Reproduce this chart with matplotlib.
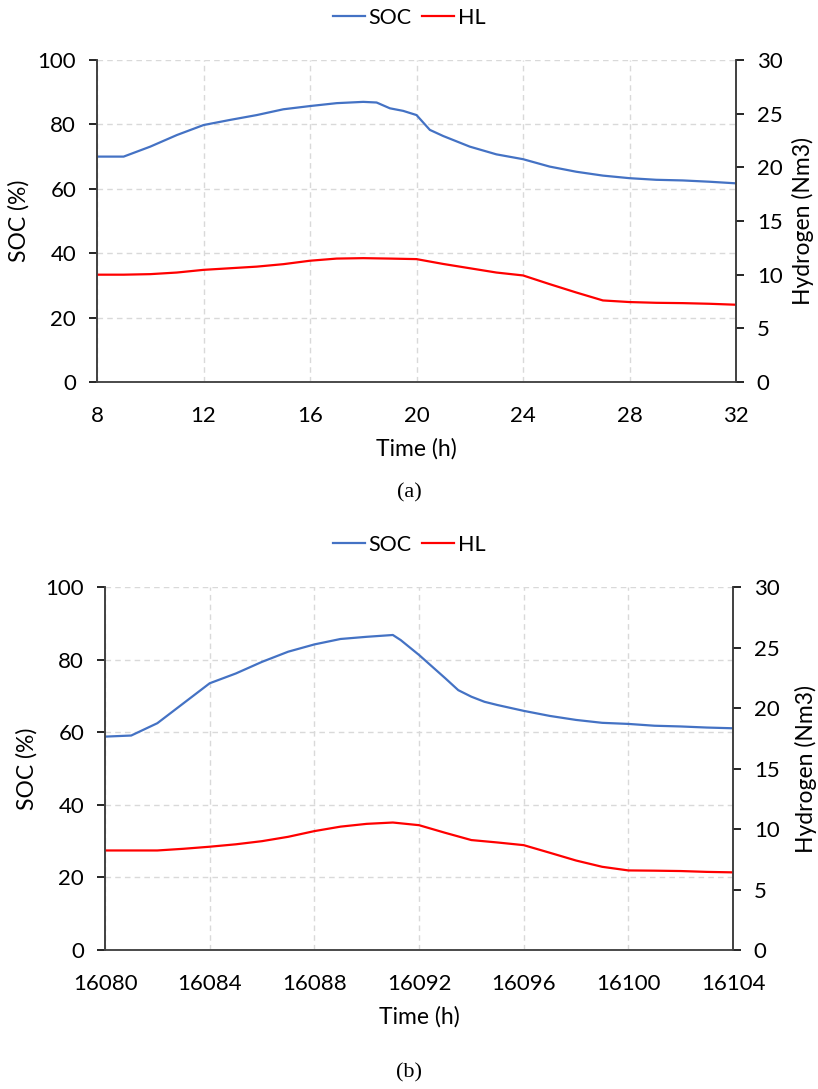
import numpy as np
import matplotlib.pyplot as plt

plt.rcParams['font.family'] = ['Lato', 'DejaVu Sans']

# (a) day 1
time_a = [8, 9, 10, 11, 12, 13, 14, 15, 16, 17, 18, 18.5, 19, 19.5, 20, 20.5,
          21, 22, 23, 24, 25, 26, 27, 28, 29, 30, 31, 32]
soc_a = [70.0, 70.0, 73.1, 76.7, 79.8, 81.4, 82.9, 84.7, 85.7, 86.6, 87.0, 86.8,
         85.0, 84.2, 82.9, 78.3, 76.4, 73.1, 70.7, 69.2, 66.9, 65.3, 64.1, 63.3,
         62.8, 62.6, 62.2, 61.7]
time_a_hl = [8, 9, 10, 11, 12, 13, 14, 15, 16, 17, 18, 19, 20, 21, 22, 23, 24,
             25, 26, 27, 28, 29, 30, 31, 32]
hl_a = [10.0, 10.0, 10.05, 10.2, 10.45, 10.6, 10.75, 10.98, 11.3, 11.5, 11.54,
        11.5, 11.45, 11.0, 10.6, 10.2, 9.93, 9.12, 8.34, 7.6, 7.45, 7.38, 7.35,
        7.29, 7.2]

# (b) later day
time_b = [16080, 16081, 16082, 16083, 16084, 16085, 16086, 16087, 16088, 16089,
          16090, 16091, 16091.3, 16092, 16092.5, 16093, 16093.5, 16094, 16094.5,
          16095, 16096, 16097, 16098, 16099, 16100, 16101, 16102, 16103, 16104]
soc_b = [58.8, 59.1, 62.5, 68.0, 73.5, 76.2, 79.4, 82.2, 84.2, 85.7, 86.3, 86.8,
         85.4, 81.3, 78.1, 74.9, 71.6, 69.8, 68.4, 67.5, 65.9, 64.5, 63.4, 62.6,
         62.3, 61.8, 61.6, 61.3, 61.1]
time_b_hl = [16080, 16081, 16082, 16083, 16084, 16085, 16086, 16087, 16088,
             16089, 16090, 16091, 16092, 16093, 16094, 16095, 16096, 16097,
             16098, 16099, 16100, 16101, 16102, 16103, 16104]
hl_b = [8.23, 8.23, 8.23, 8.37, 8.54, 8.74, 9.0, 9.36, 9.83, 10.2, 10.43, 10.54,
        10.32, 9.69, 9.09, 8.89, 8.67, 8.04, 7.4, 6.88, 6.58, 6.56, 6.53, 6.46,
        6.42]

xticks_a = [8, 12, 16, 20, 24, 28, 32]
xticks_b = [16080, 16084, 16088, 16092, 16096, 16100, 16104]

SOC_COLOR = '#4472C4'
HL_COLOR = '#FF0000'
FS = 16


def panel(pos, t, soc, t_hl, hl, xticks, legend_y, caption, caption_y, rpad):
    ax = fig.add_axes(pos)
    ax2 = ax.twinx()
    l1, = ax.plot(t, soc, color=SOC_COLOR, lw=1.6, label='SOC')
    l2, = ax2.plot(t_hl, hl, color=HL_COLOR, lw=1.6, label='HL')
    ax.set_xlim(xticks[0], xticks[-1])
    ax.set_ylim(0, 100)
    ax2.set_ylim(0, 30)
    ax.set_xticks(xticks)
    ax.set_yticks(range(0, 101, 20))
    ax2.set_yticks(range(0, 31, 5))
    ax.grid(True, color='#d9d9d9', ls=(0, (4, 3)), lw=1)
    ax.set_axisbelow(True)
    for a in (ax, ax2):
        a.spines['top'].set_visible(False)
        for s in ('left', 'right', 'bottom'):
            a.spines[s].set_color('#404040')
            a.spines[s].set_linewidth(1.2)
        a.tick_params(labelsize=FS, colors='black', width=1.2, length=6,
                      pad=9)
    ax.tick_params(axis='x', length=0, pad=17)
    ax.spines['bottom'].set_color('#7f7f7f')
    ax.set_xlabel('Time (h)', fontsize=FS + 0.5, labelpad=9)
    ax.set_ylabel('SOC (%)', fontsize=FS + 0.5, labelpad=6)
    ax2.set_ylabel('Hydrogen (Nm3)', fontsize=FS + 0.5, labelpad=rpad)
    fig.legend([l1, l2], ['SOC', 'HL'], loc='center', ncol=2,
               bbox_to_anchor=(0.5, legend_y), frameon=False, fontsize=15.5,
               handlelength=1.5, handletextpad=0.15, columnspacing=0.5)
    fig.text(0.5, caption_y, caption, ha='center', va='center',
             fontsize=16, family='Liberation Serif')


fig = plt.figure(figsize=(8.18, 10.89), dpi=100)
panel([0.1186, 0.6492, 0.7812, 0.2957], time_a, soc_a, time_a_hl, hl_a,
      xticks_a, 1 - 18 / 1089, '(a)', 1 - 493 / 1089, 7)
panel([0.1284, 0.1276, 0.7677, 0.3333], time_b, soc_b, time_b_hl, hl_b,
      xticks_b, 1 - 545 / 1089, '(b)', 1 - 1073 / 1089, 11)

fig.savefig('out.png', dpi=100)
